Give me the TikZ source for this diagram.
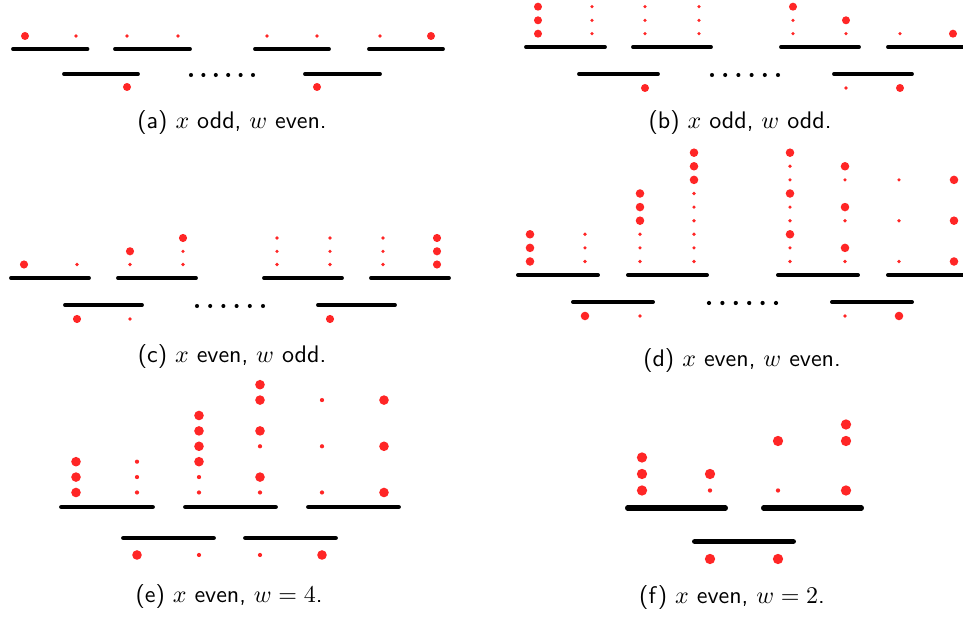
\documentclass[tikz,border=0pt]{standalone}
\definecolor{dotred}{RGB}{255,38,38}
\newcommand\dotB[2]{\fill[dotred] (#1,#2) circle[radius=\rB];}
\newcommand\dotS[2]{\fill[dotred] (#1,#2) circle[radius=\rS];}
\begin{document}
\begin{tikzpicture}[x=0.4167pt,y=-0.4167pt,
  bar/.style={line width=#1, line cap=round, draw=black},
  capt/.style={font=\sffamily, anchor=base, inner sep=0pt},
  ell/.style={fill=black}]
\useasboundingbox (0,0) rectangle (963,617);
\clip (0,0) rectangle (963,617);

% ---------------- (a) ----------------
\def\rB{1.67pt}\def\rS{0.74pt}
\draw[bar=1.6pt] (13,49) -- (87.5,49);
\draw[bar=1.6pt] (115,49) -- (190,49);
\draw[bar=1.6pt] (255,49) -- (329,49);
\draw[bar=1.6pt] (369,49) -- (443,49);
\draw[bar=1.6pt] (64,74) -- (138,74);
\draw[bar=1.6pt] (305,74) -- (380,74);
\foreach \x in {191,203.4,215.8,228.2,240.6,253} \fill[ell] (\x,75) circle[radius=0.85pt];
\dotB{25}{36}
\foreach \x in {76,127,178,267,317,380} {\dotS{\x}{36}}
\dotB{431}{36}
\dotB{127}{87}\dotB{317}{87}
\node[capt] (capa) at (232,129) {(a) $x$ odd, $w$ even.};

% ---------------- (b) ----------------
\def\rB{1.67pt}\def\rS{0.74pt}
\draw[bar=1.6pt] (526,47) -- (605,47);
\draw[bar=1.6pt] (633,47) -- (711,47);
\draw[bar=1.6pt] (781,47) -- (859,47);
\draw[bar=1.6pt] (888,47) -- (975,47);
\draw[bar=1.6pt] (579,74) -- (658,74);
\draw[bar=1.6pt] (834,74) -- (912,74);
\foreach \x in {712,725.2,738.4,751.6,764.8,778} \fill[ell] (\x,75) circle[radius=0.85pt];
\foreach \y in {33.7,20.3,6.7} {\dotB{538}{\y}\dotS{592}{\y}\dotS{645}{\y}\dotS{699}{\y}}
\dotS{793}{33.7}\dotS{793}{20.3}\dotB{793}{6.7}
\dotS{846}{33.7}\dotB{846}{20.3}
\dotS{900}{33.7}
\dotB{953}{33.7}
\dotB{645}{88}\dotS{846}{88}\dotB{900}{88}
\node[capt] (capb) at (740,129) {(b) $x$ odd, $w$ odd.};

% ---------------- (c) ----------------
\def\rB{1.7pt}\def\rS{0.74pt}
\draw[bar=1.6pt] (11,278) -- (89,278);
\draw[bar=1.6pt] (118,278) -- (196,278);
\draw[bar=1.6pt] (264,278) -- (342,278);
\draw[bar=1.6pt] (371,278) -- (449,278);
\draw[bar=1.6pt] (65,305) -- (142,305);
\draw[bar=1.6pt] (318,305) -- (395,305);
\foreach \x in {197,210.2,223.4,236.6,249.8,263} \fill[ell] (\x,306) circle[radius=0.85pt];
\dotB{24}{264.5}
\dotS{77}{264.5}
\dotS{130}{264.5}\dotB{130}{251.3}
\dotS{183}{264.5}\dotS{183}{251.3}\dotB{183}{238}
\foreach \y in {264.5,251.3,238} {\dotS{277}{\y}\dotS{330}{\y}\dotS{383}{\y}\dotB{437}{\y}}
\dotB{77}{319}\dotS{130}{319}\dotB{330}{319}
\node[capt] (capc) at (232,363) {(c) $x$ even, $w$ odd.};

% ---------------- (d) ----------------
\def\rB{1.78pt}\def\rS{0.76pt}
\draw[bar=1.65pt] (518,275) -- (598,275);
\draw[bar=1.65pt] (628,275) -- (707,275);
\draw[bar=1.65pt] (778,275) -- (858,275);
\draw[bar=1.65pt] (888,275) -- (975,275);
\draw[bar=1.65pt] (573,302) -- (653,302);
\draw[bar=1.65pt] (832,302) -- (912,302);
\foreach \x in {709,722.4,735.8,749.2,762.6,776} \fill[ell] (\x,303) circle[radius=0.88pt];
% rows r1..r9
\foreach \y in {261.5,247.9,234.3} {\dotB{530}{\y}\dotS{585}{\y}\dotS{640}{\y}\dotS{694}{\y}}
\foreach \y in {220.7,207.1,193.5} {\dotB{640}{\y}\dotS{694}{\y}}
\foreach \y in {179.9,166.3,152.7} {\dotB{694}{\y}}
% column 790
\dotS{790}{261.5}\dotS{790}{247.9}\dotB{790}{234.3}
\dotS{790}{220.7}\dotS{790}{207.1}\dotB{790}{193.5}
\dotS{790}{179.9}\dotS{790}{166.3}\dotB{790}{152.7}
% column 845
\dotS{845}{261.5}\dotB{845}{247.9}
\dotS{845}{220.7}\dotB{845}{207.1}
\dotS{845}{179.9}\dotB{845}{166.3}
% columns 899, 954
\foreach \y in {261.5,220.7,179.9} {\dotS{899}{\y}\dotB{954}{\y}}
\dotB{585}{316}\dotS{640}{316}\dotS{845}{316}\dotB{899}{316}
\node[capt] (capd) at (742,367) {(d) $x$ even, $w$ even.};

% ---------------- (e) ----------------
\def\rB{2.0pt}\def\rS{0.88pt}
\draw[bar=2.0pt] (61.5,507) -- (152.5,507);
\draw[bar=2.0pt] (185.5,507) -- (275.5,507);
\draw[bar=2.0pt] (308.5,507) -- (398.5,507);
\draw[bar=2.0pt] (123.5,538) -- (213.5,538);
\draw[bar=2.0pt] (245.5,538) -- (335.5,538);
\foreach \y in {492.5,477.1,461.7} {\dotB{76}{\y}\dotS{137}{\y}}
\dotS{199}{492.5}\dotS{199}{477.1}
\foreach \y in {461.7,446.3,430.9,415.5} {\dotB{199}{\y}}
\dotS{260}{492.5}\dotB{260}{477.1}\dotS{260}{446.3}\dotB{260}{430.9}\dotB{260}{400.1}\dotB{260}{384.7}
\foreach \y in {492.5,446.3,400.1} {\dotS{322}{\y}\dotB{384}{\y}}
\dotB{137}{555}\dotS{199}{555}\dotS{260}{555}\dotB{322}{555}
\node[capt] (cape) at (229,603) {(e) $x$ even, $w=4$.};

% ---------------- (f) ----------------
\def\rB{2.15pt}\def\rS{0.9pt}
\draw[bar=2.25pt] (627.7,508) -- (725.3,508);
\draw[bar=2.25pt] (763.7,508) -- (861.3,508);
\draw[bar=2.25pt] (694.7,541.5) -- (793.3,541.5);
\dotB{642}{490.5}\dotB{642}{474}\dotB{642}{457.5}
\dotS{710}{490.5}\dotB{710}{474}
\dotS{778}{490.5}\dotB{778}{441}
\dotB{846}{490.5}\dotB{846}{441}\dotB{846}{424.5}
\dotB{710}{559}\dotB{778}{559}
\node[capt] (capf) at (732,604) {(f) $x$ even, $w=2$.};
\end{tikzpicture}
\end{document}
